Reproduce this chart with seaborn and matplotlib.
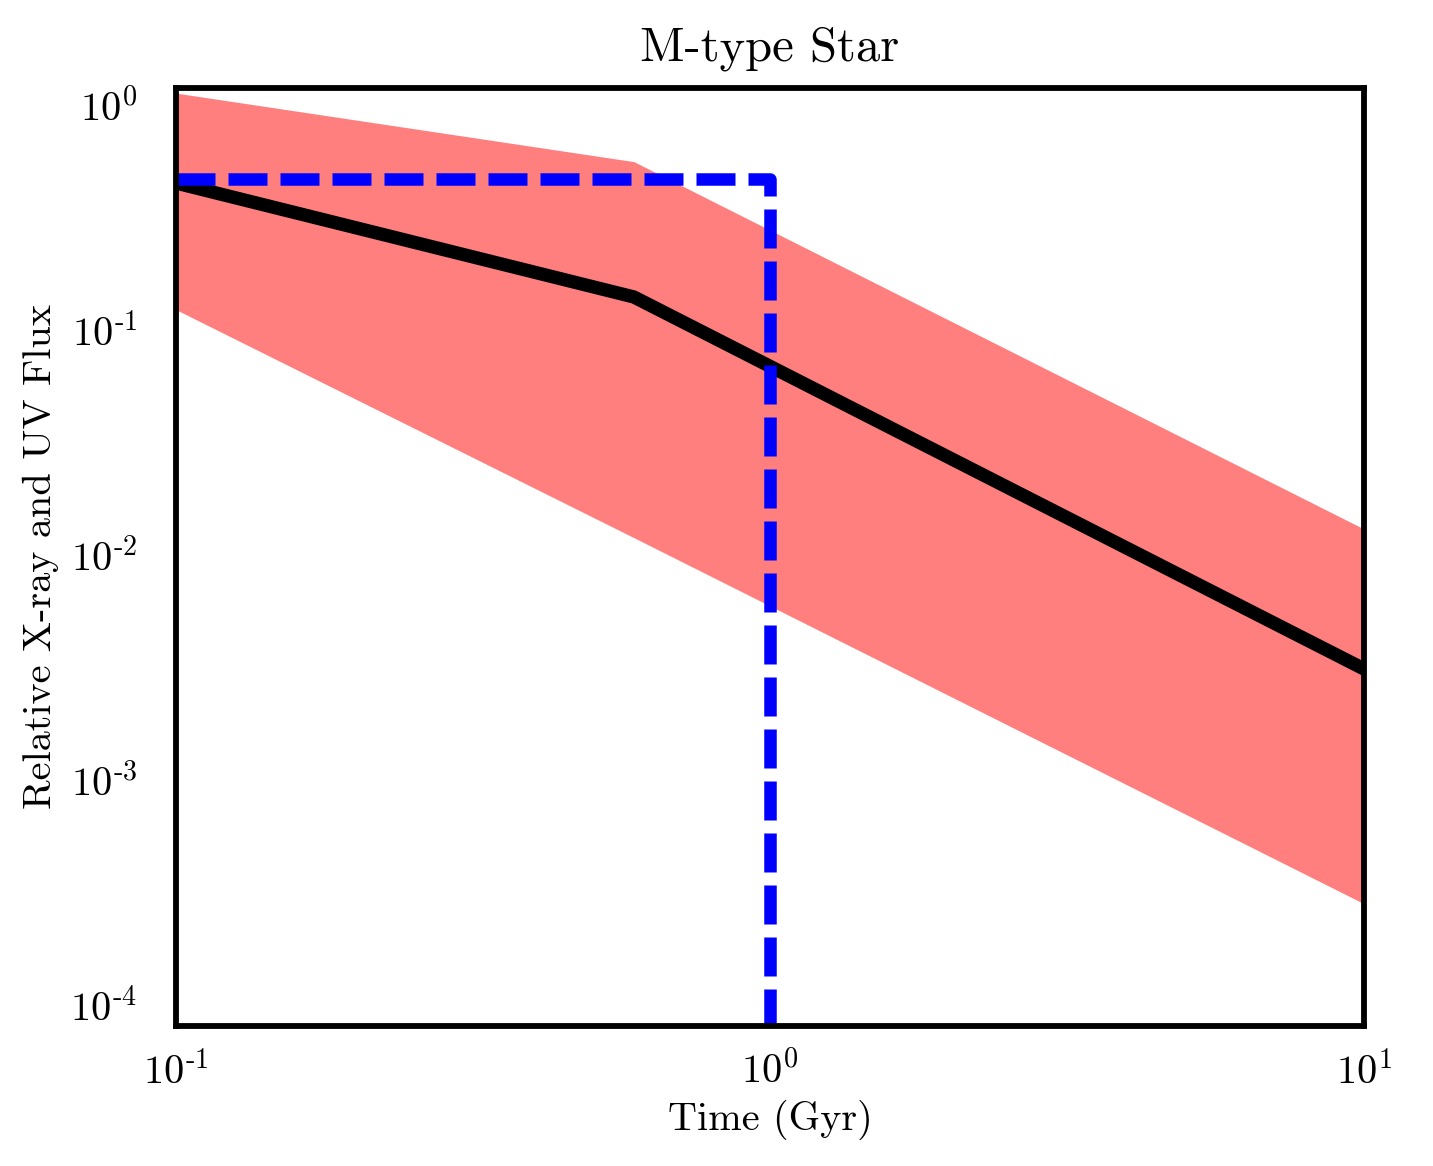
import numpy as np
import pandas as pd
import matplotlib
matplotlib.use('Agg')
import matplotlib.pyplot as plt
import seaborn as sns

# data (log-log)
time_gyr = [0.1, 0.59, 10.0]
flux_mid = [0.45, 0.14, 0.0031]
flux_upper = [1.13, 0.56, 0.0130]
flux_lower = [0.123, 0.0119, 0.00028]

sat_time = [0.1, 1.0, 1.0]
sat_flux = [0.47, 0.47, 1e-5]

x_ticks = [0.1, 1, 10]
x_tick_labels = [r'$10^{\text{-}1}$', r'$10^{0}$', r'$10^{1}$']
y_ticks = [1e-4, 1e-3, 1e-2, 1e-1, 1]
y_tick_labels = [r'$10^{\text{-}4}$', r'$10^{\text{-}3}$', r'$10^{\text{-}2}$',
                 r'$10^{\text{-}1}$', r'$10^{0}$']

sns.set_style('white')
plt.rcParams['font.family'] = 'serif'
plt.rcParams['font.serif'] = ['cmr10', 'DejaVu Serif']
plt.rcParams['mathtext.fontset'] = 'cm'
plt.rcParams['axes.formatter.use_mathtext'] = True
plt.rcParams['axes.unicode_minus'] = False
# 文字はすべて黒
for key in ['text.color', 'axes.labelcolor', 'xtick.color', 'ytick.color']:
    plt.rcParams[key] = 'black'

df_mid = pd.DataFrame({'t': time_gyr, 'f': flux_mid})
df_sat = pd.DataFrame({'t': sat_time, 'f': sat_flux})

fig, ax = plt.subplots(figsize=(7.165, 5.83), dpi=200)
fig.subplots_adjust(left=0.1228, right=0.9519, top=0.9245, bottom=0.12)

ax.fill_between(time_gyr, flux_lower, flux_upper, color='red', alpha=0.5, linewidth=0)
sns.lineplot(data=df_mid, x='t', y='f', color='black', linewidth=4.8,
             estimator=None, ax=ax)
sns.lineplot(data=df_sat, x='t', y='f', sort=False, estimator=None, color='blue',
             linewidth=4.5, ax=ax)
ax.lines[-1].set_dashes((3.12, 1.04))

ax.set_xscale('log')
ax.set_yscale('log')
ax.set_xlim(0.1, 10)
ax.set_ylim(8.0e-5, 1.19)
ax.minorticks_off()
ax.set_xticks(x_ticks, x_tick_labels)
ax.set_yticks(y_ticks, y_tick_labels)

ax.set_title('M-type Star', fontsize=17.5, pad=10)
ax.set_xlabel('Time (Gyr)', fontsize=14.5, labelpad=3)
ax.set_ylabel('Relative X-ray and UV Flux', fontsize=14.5, labelpad=4)
ax.tick_params(axis='x', length=0, pad=9, labelsize=14.5)
ax.tick_params(axis='y', length=0, pad=14, labelsize=14.5)

for sp in ax.spines.values():
    sp.set_color('black')
    sp.set_linewidth(2.1)

plt.savefig('out.png', dpi=200)
plt.close()
